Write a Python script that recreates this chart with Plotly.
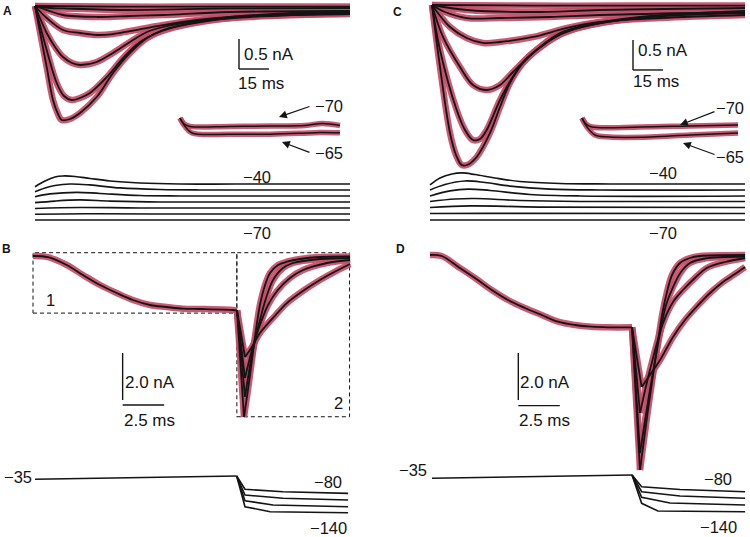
import plotly.graph_objects as go

W, H = 750, 537
RED = "rgba(195,76,103,0.92)"
INK = "#141414"
FONT = "Liberation Sans, Arial, Helvetica, sans-serif"

# ---------------- Panel A : currents (ms, nA) ----------------
a0_t = [0, 40, 80, 120, 157.5]
a0_i = [0, -0.01, -0.01, -0.01, -0.01]
a1_t = [0, 7.5, 14, 47.5, 97.5, 157.5]
a1_i = [0, -0.033, -0.04, -0.067, -0.04, -0.033]
a2_t = [0, 5.85, 14, 31, 47.5, 64, 97.5, 157.5]
a2_i = [0, -0.067, -0.15, -0.183, -0.167, -0.15, -0.1, -0.083]
a3_t = [0, 5.85, 14, 22.5, 30.85, 39, 47.5, 64, 81, 97.5, 127.5, 157.5]
a3_i = [0, -0.2, -0.4, -0.45, -0.483, -0.467, -0.417, -0.317, -0.233, -0.183, -0.15, -0.133]
a4_t = [0, 5.85, 10, 14, 18.5, 22.5, 30.85, 39, 47.5, 56, 64, 81, 107.5, 157.5]
a4_i = [0, -0.45, -0.683, -0.85, -0.95, -0.983, -0.933, -0.783, -0.6, -0.433, -0.35, -0.25, -0.183, -0.117]
a5_t = [0, 5.85, 10.85, 14.5, 18.35, 22.5, 27.5, 36, 44, 52.5, 61, 72.5, 97.5, 127.5, 157.5]
a5_i = [0, -0.733, -1.283, -1.5, -1.567, -1.533, -1.45, -1.183, -0.867, -0.6, -0.45, -0.333, -0.2, -0.133, -0.1]
a6_t = [0, 5.85, 9, 11.25, 13.35, 17.5, 22.5, 30.85, 39, 47.5, 56, 64, 81, 97.5, 127.5, 157.5]
a6_i = [0, -1.017, -1.567, -1.783, -1.9, -1.883, -1.783, -1.517, -1.117, -0.783, -0.533, -0.4, -0.267, -0.183, -0.117, -0.083]

# inset A (tail currents at -70 and -65 mV)
ai70_t = [0, 2, 5, 25, 45, 62.5, 71, 76, 80]
ai70_i = [0, -0.1, -0.14, -0.14, -0.135, -0.125, -0.09, -0.105, -0.125]
ai65_t = [0, 2.5, 6, 25, 45, 60, 70, 80]
ai65_i = [0, -0.14, -0.25, -0.27, -0.27, -0.255, -0.24, -0.245]

# voltage A (ms, mV)
av1_t = [0, 5, 10, 14, 20, 27.5, 37.5, 52.5, 72.5, 100, 157.5]
av1_v = [-42.25, -37.5, -34.17, -33.33, -33.75, -35.42, -37.5, -39.17, -40, -40, -40]
av2_t = [0, 5, 10, 17.5, 27.5, 42.5, 62.5, 82.5, 157.5]
av2_v = [-46.4, -43.3, -41.25, -40, -40.8, -43.3, -44.6, -45, -45]
av3_t = [0, 7.5, 20.85, 32.5, 52.5, 72.5, 157.5]
av3_v = [-50.6, -48.3, -46.9, -47.9, -49.6, -50, -50]
av4_t = [0, 10, 22.5, 37.5, 62.5, 157.5]
av4_v = [-55.6, -54.2, -53.3, -54.2, -55, -55]
av5_t = [0, 22.5, 52.5, 157.5]
av5_v = [-60.4, -59.6, -60, -60]
av6_t = [0, 25, 60, 157.5]
av6_v = [-65.2, -64.8, -65, -65]
av7_t = [0, 157.5]
av7_v = [-70, -70]

# ---------------- Panel C ----------------
c0_t = [0, 50, 100, 156.5]
c0_i = [0, -0.01, -0.01, -0.01]
c1_t = [0, 17.5, 50.5, 84, 156.5]
c1_i = [0, -0.083, -0.117, -0.083, -0.05]
c2_t = [0, 6.5, 17.35, 34, 59, 84, 156.5]
c2_i = [0, -0.117, -0.217, -0.217, -0.2, -0.167, -0.117]
c3_t = [0, 9, 17.35, 25.5, 34, 50.5, 67.5, 84, 114, 156.5]
c3_i = [0, -0.367, -0.55, -0.633, -0.617, -0.533, -0.383, -0.283, -0.217, -0.167]
c4_t = [0, 5.5, 14, 20.5, 27.35, 34, 40.5, 50.5, 59, 71.5, 94, 124, 156.5]
c4_i = [0, -0.533, -1.033, -1.333, -1.417, -1.333, -1.117, -0.8, -0.583, -0.4, -0.25, -0.167, -0.133]
c5_t = [0, 4, 12.35, 16.5, 20.5, 24, 27.35, 34, 40, 46.5, 56.5, 66.5, 84, 114, 156.5]
c5_i = [0, -0.75, -1.75, -2.083, -2.25, -2.233, -2.083, -1.583, -1.217, -0.917, -0.65, -0.45, -0.3, -0.183, -0.117]
c6_t = [0, 4, 9, 12, 14.85, 17.5, 22.35, 29, 34, 39, 45.5, 54, 64, 77.35, 104, 156.5]
c6_i = [0, -1.033, -2.133, -2.5, -2.667, -2.667, -2.533, -2.133, -1.7, -1.3, -0.967, -0.7, -0.467, -0.333, -0.2, -0.1]

ci70_t = [0, 2, 5, 29, 54, 78]
ci70_i = [0, -0.1, -0.15, -0.15, -0.133, -0.117]
ci65_t = [0, 2.5, 6.5, 14, 34, 54, 78]
ci65_i = [0, -0.15, -0.283, -0.317, -0.317, -0.283, -0.25]

cv1_t = [0, 5, 11, 16, 22.5, 32.5, 45, 65, 90, 157.5]
cv1_v = [-40.8, -35, -31.67, -30.8, -32.1, -35, -37.9, -39.6, -40, -40]
cv2_t = [0, 7.5, 17.5, 27.5, 40, 60, 85, 157.5]
cv2_v = [-45, -40.4, -37.5, -38.75, -41.7, -44.2, -45, -45]
cv3_t = [0, 10, 19, 30, 50, 75, 157.5]
cv3_v = [-50, -45.8, -44.2, -45.4, -48.75, -50, -50]
cv4_t = [0, 12.5, 22.5, 45, 75, 157.5]
cv4_v = [-54.6, -52.5, -52.1, -53.75, -54.6, -54.6]
cv5_t = [0, 20, 55, 157.5]
cv5_v = [-59.6, -58.3, -59.2, -59.6]
cv6_t = [0, 30, 157.5]
cv6_v = [-64.6, -64.4, -64.6]
cv7_t = [0, 157.5]
cv7_v = [-70, -70]

# ---------------- Panel B ----------------
b_pre_t = [0, 0.9, 2.03, 3.01, 4.04, 5.04, 6.02, 7.05, 8.05, 9.04, 10.06, 12.05, 12.29]
b_pre_i = [0, -0.05, -0.383, -0.809, -1.234, -1.574, -1.872, -2.085, -2.17, -2.243, -2.255, -2.298, -2.319]
b1_t = [12.29, 12.71, 12.95, 13.19, 13.43, 13.67, 13.98, 14.28, 14.76, 15.3, 16.08, 17.29, 19.1]
b1_i = [-2.319, -6.851, -5.70, -4.43, -3.15, -2.085, -1.234, -0.723, -0.383, -0.243, -0.128, -0.043, -0.021]
b2_t = [12.29, 12.77, 13.19, 13.67, 14.1, 14.46, 15.06, 15.66, 17.29, 19.1]
b2_i = [-2.319, -5.987, -4.213, -2.723, -1.66, -1.021, -0.511, -0.298, -0.128, -0.085]
b3_t = [12.29, 12.77, 13.19, 13.67, 14.16, 14.7, 15.48, 16.27, 17.71, 19.1]
b3_i = [-2.319, -5.191, -4.0, -2.936, -2.085, -1.489, -0.936, -0.596, -0.298, -0.17]
b4_t = [12.29, 12.77, 13.19, 13.67, 14.5, 15.28, 16.3, 17.29, 18.2, 19.1]
b4_i = [-2.319, -4.298, -3.872, -3.277, -2.6, -2.013, -1.47, -1.021, -0.66, -0.34]

bv_pre_t = [0, 12.15]
bv_pre_v = [-36.8, -26.7]
bv1_t = [12.15, 12.65, 14.94, 18.86]
bv1_v = [-26.7, -67.6, -75, -80]
bv2_t = [12.15, 12.65, 14.94, 18.86]
bv2_v = [-26.7, -85.2, -95.3, -100.5]
bv3_t = [12.15, 12.65, 14.34, 18.86]
bv3_v = [-26.7, -102.7, -115.9, -121.2]
bv4_t = [12.15, 12.65, 14.16, 18.86]
bv4_v = [-26.7, -121.2, -136.5, -139.6]

# ---------------- Panel D ----------------
d_pre_t = [0, 0.7, 1.69, 2.71, 3.72, 4.7, 5.72, 6.73, 7.71, 8.73, 9.74, 10.72, 12.17]
d_pre_i = [0, -0.043, -0.498, -0.979, -1.489, -1.915, -2.255, -2.553, -2.838, -2.979, -3.051, -3.077, -3.077]
d1_t = [12.17, 12.65, 13.13, 13.66, 13.98, 14.26, 14.58, 15.06, 15.66, 16.27, 18.98]
d1_i = [-3.077, -9.149, -6.596, -4.043, -2.553, -1.617, -0.851, -0.34, -0.128, -0.043, 0]
d2_t = [12.17, 12.65, 13.25, 13.86, 14.22, 14.64, 15.12, 15.66, 16.57, 18.98]
d2_i = [-3.077, -8.426, -5.745, -3.319, -2.128, -1.362, -0.723, -0.34, -0.149, -0.064]
d3_t = [12.17, 12.65, 13.25, 14.04, 14.64, 15.24, 15.96, 16.67, 17.77, 18.98]
d3_i = [-3.077, -6.723, -4.894, -2.894, -2.0, -1.489, -0.979, -0.553, -0.298, -0.128]
d4_t = [12.17, 12.75, 13.25, 13.86, 14.64, 15.36, 16.07, 16.87, 17.65, 18.37, 18.98]
d4_i = [-3.077, -5.617, -5.106, -4.468, -3.489, -2.766, -2.196, -1.617, -1.149, -0.809, -0.511]

dv_pre_t = [0, 12.05]
dv_pre_v = [-38.1, -27.9]
dv1_t = [12.05, 12.63, 14.94, 18.86]
dv1_v = [-27.9, -63.9, -72.5, -79.3]
dv2_t = [12.05, 12.63, 14.94, 18.86]
dv2_v = [-27.9, -79.3, -92.5, -99.6]
dv3_t = [12.05, 12.63, 14.34, 18.86]
dv3_v = [-27.9, -96.5, -114.1, -120.2]
dv4_t = [12.05, 12.63, 13.61, 18.86]
dv4_v = [-27.9, -115, -138.7, -140.8]

# scale bars (time ms, current nA)
SCALE_AC = (15, 0.5)
SCALE_BD = (2.5, 2.0)

# ---------------- figure construction ----------------
fig = go.Figure()
axes_layout = {}


def make_axes(n, px0, sx, v0, py0, sy):
    """axis pair n whose value 0 (x) sits at pixel px0 and value v0 (y) at pixel py0"""
    xid = "x" if n == 1 else f"x{n}"
    yid = "y" if n == 1 else f"y{n}"
    axes_layout["xaxis" if n == 1 else f"xaxis{n}"] = dict(
        domain=[0, 1], range=[-px0 / sx, (W - px0) / sx], visible=False,
        fixedrange=True, anchor=yid)
    axes_layout["yaxis" if n == 1 else f"yaxis{n}"] = dict(
        domain=[0, 1], range=[v0 - (H - py0) / sy, v0 + py0 / sy], visible=False,
        fixedrange=True, anchor=xid)
    return xid, yid


def line(t, y, ax, color, width, shape="spline", smoothing=1.0):
    fig.add_trace(go.Scatter(x=t, y=y, xaxis=ax[0], yaxis=ax[1], mode="lines",
                             line=dict(color=color, width=width, shape=shape,
                                       smoothing=smoothing if shape == "spline" else None),
                             hoverinfo="skip", showlegend=False))


def currents(traces, ax, rw=6.5, bw=1.8):
    for t, i in traces:
        line(t, i, ax, RED, rw)
    for t, i in traces:
        line(t, i, ax, INK, bw)


def tails(pre, traces, ax, rw=6.5, bw=1.8):
    for color, w in ((RED, rw), (INK, bw)):
        line(pre[0], pre[1], ax, color, w)
        for t, i in traces:
            k = i.index(min(i))
            line(t[:k + 1], i[:k + 1], ax, color, w, shape="linear")
            line(t[k:], i[k:], ax, color, w, smoothing=0.9)


def volts(traces, ax, w=1.7, shape="spline"):
    for t, v in traces:
        line(t, v, ax, INK, w, shape=shape)


def scalebar(ax, t0, i0, dt, di, gap=0.0):
    line([t0, t0], [i0, i0 - di], ax, INK, 1.4, shape="linear")
    line([t0, t0 + dt], [i0 - di - gap, i0 - di - gap], ax, INK, 1.4, shape="linear")


# Panel A
axA = make_axes(1, 35, 2.0, 0.0, 6, 60.0)
axAi = make_axes(2, 180, 2.0, 0.0, 118, 60.0)
axAv = make_axes(3, 35, 2.0, -70.0, 220, 1.2)
currents([(a0_t, a0_i), (a1_t, a1_i), (a2_t, a2_i), (a3_t, a3_i),
          (a4_t, a4_i), (a5_t, a5_i), (a6_t, a6_i)], axA)
scalebar(axA, 102, -0.55, SCALE_AC[0], SCALE_AC[1])
currents([(ai70_t, ai70_i), (ai65_t, ai65_i)], axAi, rw=5.5, bw=1.5)
volts([(av1_t, av1_v), (av2_t, av2_v), (av3_t, av3_v), (av4_t, av4_v),
       (av5_t, av5_v), (av6_t, av6_v), (av7_t, av7_v)], axAv)

# Panel C
axC = make_axes(4, 432, 2.0, 0.0, 5, 60.0)
axCi = make_axes(5, 582, 2.0, 0.0, 118, 60.0)
axCv = make_axes(6, 430, 2.0, -70.0, 220, 1.2)
currents([(c0_t, c0_i), (c1_t, c1_i), (c2_t, c2_i), (c3_t, c3_i),
          (c4_t, c4_i), (c5_t, c5_i), (c6_t, c6_i)], axC)
scalebar(axC, 100.5, -0.583, SCALE_AC[0], SCALE_AC[1])
currents([(ci70_t, ci70_i), (ci65_t, ci65_i)], axCi, rw=5.5, bw=1.5)
volts([(cv1_t, cv1_v), (cv2_t, cv2_v), (cv3_t, cv3_v), (cv4_t, cv4_v),
       (cv5_t, cv5_v), (cv6_t, cv6_v), (cv7_t, cv7_v)], axCv)

# Panel B
axB = make_axes(7, 33, 16.6, 0.0, 256, 23.5)
axBv = make_axes(8, 35, 16.6, -35.0, 478.7, 0.325)
tails((b_pre_t, b_pre_i), [(b4_t, b4_i), (b3_t, b3_i), (b2_t, b2_i), (b1_t, b1_i)], axB)
scalebar(axB, 5.40, -4.128, SCALE_BD[0], SCALE_BD[1], gap=0.21)
volts([(bv_pre_t, bv_pre_v), (bv1_t, bv1_v), (bv2_t, bv2_v), (bv3_t, bv3_v), (bv4_t, bv4_v)],
      axBv, w=1.6, shape="linear")

# Panel D
axD = make_axes(9, 430, 16.6, 0.0, 255, 23.5)
axDv = make_axes(10, 432, 16.6, -35.0, 477.3, 0.325)
tails((d_pre_t, d_pre_i), [(d4_t, d4_i), (d3_t, d3_i), (d2_t, d2_i), (d1_t, d1_i)], axD)
scalebar(axD, 5.32, -4.17, SCALE_BD[0], SCALE_BD[1], gap=0.24)
volts([(dv_pre_t, dv_pre_v), (dv1_t, dv1_v), (dv2_t, dv2_v), (dv3_t, dv3_v), (dv4_t, dv4_v)],
      axDv, w=1.6, shape="linear")

# dashed boxes in panel B (data coordinates of B axes)
shapes = []
for (t0, t1, i0, i1) in [(0, 12.28, 0.14, -2.43), (12.28, 19.07, 0.14, -6.84)]:
    shapes.append(dict(type="rect", xref=axB[0], yref=axB[1], x0=t0, x1=t1, y0=i1, y1=i0,
                       line=dict(color=INK, width=1, dash="4px,3px"), layer="below"))

# ---------------- text ----------------
ann = []


def P(px, py):
    return px / W, 1 - py / H


def text(s, px, py, xanchor="center", size=16.5, bold=False):
    x, y = P(px, py)
    ann.append(dict(text=f"<b>{s}</b>" if bold else s, x=x, y=y, xref="paper", yref="paper",
                    xanchor=xanchor, yanchor="middle", showarrow=False,
                    font=dict(family=FONT, size=size, color=INK)))


def arrow(hx, hy, tx, ty):
    x, y = P(hx, hy)
    ann.append(dict(text="", x=x, y=y, xref="paper", yref="paper", ax=tx - hx, ay=ty - hy,
                    axref="pixel", ayref="pixel", showarrow=True, arrowhead=2,
                    arrowsize=1.3, arrowwidth=1.2, arrowcolor=INK))


for s, px, py in [("A", 7, 11), ("B", 6, 249), ("C", 397, 12), ("D", 401, 249)]:
    text(s, px, py, size=12, bold=True)

# A
text("0.5 nA", 242, 55, xanchor="left", size=17)
text("15 ms", 236, 83, xanchor="left", size=17)
text("\u221270", 329, 106)
text("\u221265", 329, 153)
arrow(279, 117, 311, 106)
arrow(282, 142, 311, 153)
text("\u221240", 257, 177)
text("\u221270", 257, 233)
# C
text("0.5 nA", 636, 50, xanchor="left", size=17)
text("15 ms", 631, 82, xanchor="left", size=17)
text("\u221270", 730, 108)
text("\u221265", 730, 157)
arrow(680, 125, 716, 111)
arrow(683, 143, 716, 155)
text("\u221240", 663, 173)
text("\u221270", 663, 233)
# B
text("1", 50, 300)
text("2", 338, 403)
text("2.0 nA", 123, 382, xanchor="left", size=17)
text("2.5 ms", 122, 420, xanchor="left", size=17)
text("\u221235", 18, 477)
text("\u221280", 328, 482)
text("\u2212140", 328, 528)
# D
text("2.0 nA", 518, 382, xanchor="left", size=17)
text("2.5 ms", 517, 420, xanchor="left", size=17)
text("\u221235", 413, 470)
text("\u221280", 718, 479)
text("\u2212140", 718, 527)

fig.update_layout(width=W, height=H, autosize=False, margin=dict(l=0, r=0, t=0, b=0),
                  paper_bgcolor="white", plot_bgcolor="rgba(0,0,0,0)", showlegend=False,
                  hovermode=False, annotations=ann, shapes=shapes, **axes_layout)
fig.write_html("out.html", config=dict(displayModeBar=False, staticPlot=True),
               post_script="document.body.style.margin='0';document.body.style.overflow='hidden';")
